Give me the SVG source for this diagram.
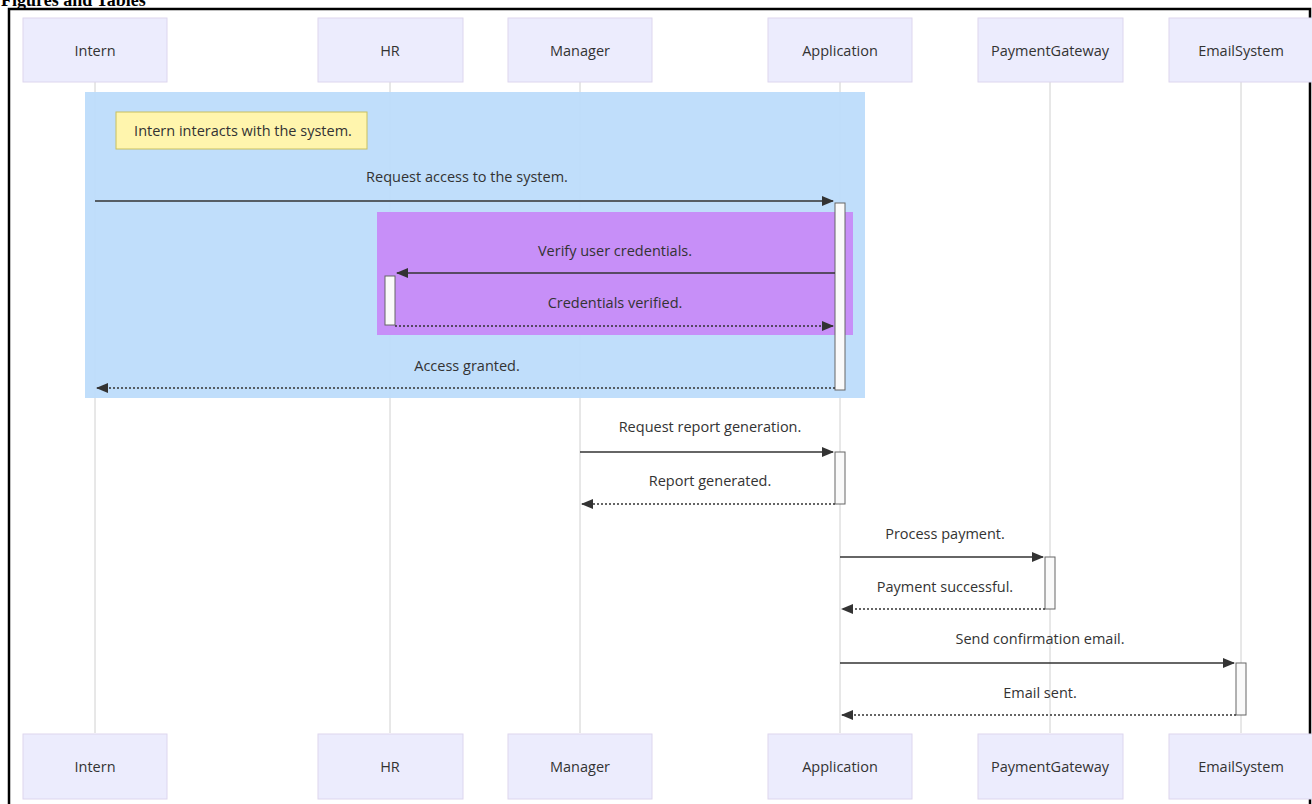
<svg xmlns="http://www.w3.org/2000/svg" width="1312" height="804" viewBox="0 0 1312 804">
<style>
.actor rect{fill:#ececfd;stroke:#ddd6ee;stroke-width:1}
.actor text,.msg{font-family:"Open Sans","DejaVu Sans",sans-serif;font-size:14.5px;fill:#333;text-anchor:middle}
.life{stroke:#d0d0d0;stroke-width:1}
.solid{stroke:#333;stroke-width:1.5;fill:none}
.dot{stroke:#333;stroke-width:1.5;fill:none;stroke-dasharray:2 2}
.act{fill:#fafafa;stroke:#666;stroke-width:1}
</style>
<defs>
<marker id="ah" viewBox="0 0 12 10" refX="11" refY="5" markerWidth="12" markerHeight="10" markerUnits="userSpaceOnUse" orient="auto">
<path d="M0,0 L12,5 L0,10 z" fill="#333"/>
</marker>
</defs>
<rect width="1312" height="804" fill="#fff"/>
<text x="1" y="6" font-family="Liberation Serif,serif" font-weight="bold" font-size="18" fill="#000">Figures and Tables</text>
<path d="M9,804 V9 H1310 V804" fill="none" stroke="#000" stroke-width="2.5"/>

<g id="lifelines">
<line class="life" x1="95" y1="82" x2="95" y2="733"/>
<line class="life" x1="390" y1="82" x2="390" y2="733"/>
<line class="life" x1="580" y1="82" x2="580" y2="733"/>
<line class="life" x1="840" y1="82" x2="840" y2="733"/>
<line class="life" x1="1050" y1="82" x2="1050" y2="733"/>
<line class="life" x1="1241" y1="82" x2="1241" y2="733"/>
</g>

<g id="box-intern-block">
<rect x="85" y="92" width="780" height="306" fill="#bddcfb" fill-opacity="0.95"/>
</g>
<g id="box-verify-block">
<rect x="377" y="212" width="476" height="123" fill="#c78ff8"/>
</g>

<g id="note">
<rect x="116" y="112" width="251" height="37" fill="#fff5ad" stroke="#c8c060" stroke-width="1"/>
<text class="msg" x="243" y="136" style="font-size:14.5px">Intern interacts with the system.</text>
</g>

<g id="activations">
<rect class="act" x="835" y="203" width="10" height="187"/>
<rect class="act" x="385" y="276" width="10" height="49"/>
<rect class="act" x="835" y="452" width="10" height="52"/>
<rect class="act" x="1045" y="557" width="10" height="52"/>
<rect class="act" x="1236" y="663" width="10" height="52"/>
</g>

<g id="connectors">
<text class="msg" x="467" y="182">Request access to the system.</text>
<line class="solid" x1="95" y1="201" x2="833" y2="201" marker-end="url(#ah)"/>
<text class="msg" x="615" y="256">Verify user credentials.</text>
<line class="solid" x1="835" y1="273" x2="397" y2="273" marker-end="url(#ah)"/>
<text class="msg" x="615" y="308">Credentials verified.</text>
<line class="dot" x1="395" y1="326" x2="833" y2="326" marker-end="url(#ah)"/>
<text class="msg" x="467" y="371">Access granted.</text>
<line class="dot" x1="835" y1="388" x2="97" y2="388" marker-end="url(#ah)"/>
<text class="msg" x="710" y="432">Request report generation.</text>
<line class="solid" x1="580" y1="452" x2="833" y2="452" marker-end="url(#ah)"/>
<text class="msg" x="710" y="486">Report generated.</text>
<line class="dot" x1="835" y1="504" x2="582" y2="504" marker-end="url(#ah)"/>
<text class="msg" x="945" y="539">Process payment.</text>
<line class="solid" x1="840" y1="557" x2="1043" y2="557" marker-end="url(#ah)"/>
<text class="msg" x="945" y="592">Payment successful.</text>
<line class="dot" x1="1045" y1="609" x2="842" y2="609" marker-end="url(#ah)"/>
<text class="msg" x="1040" y="644">Send confirmation email.</text>
<line class="solid" x1="840" y1="663" x2="1234" y2="663" marker-end="url(#ah)"/>
<text class="msg" x="1040" y="698">Email sent.</text>
<line class="dot" x1="1236" y1="715" x2="842" y2="715" marker-end="url(#ah)"/>
</g>

<g id="actor-intern" class="actor">
<rect x="23" y="18" width="144" height="64"/><text x="95" y="56">Intern</text>
<rect x="23" y="734" width="144" height="65"/><text x="95" y="772">Intern</text>
</g>
<g id="actor-hr" class="actor">
<rect x="318" y="18" width="145" height="64"/><text x="390" y="56">HR</text>
<rect x="318" y="734" width="145" height="65"/><text x="390" y="772">HR</text>
</g>
<g id="actor-manager" class="actor">
<rect x="508" y="18" width="144" height="64"/><text x="580" y="56">Manager</text>
<rect x="508" y="734" width="144" height="65"/><text x="580" y="772">Manager</text>
</g>
<g id="actor-application" class="actor">
<rect x="768" y="18" width="144" height="64"/><text x="840" y="56">Application</text>
<rect x="768" y="734" width="144" height="65"/><text x="840" y="772">Application</text>
</g>
<g id="actor-paymentgateway" class="actor">
<rect x="978" y="18" width="145" height="64"/><text x="1050" y="56">PaymentGateway</text>
<rect x="978" y="734" width="145" height="65"/><text x="1050" y="772">PaymentGateway</text>
</g>
<g id="actor-emailsystem" class="actor">
<rect x="1169" y="18" width="144" height="64"/><text x="1241" y="56">EmailSystem</text>
<rect x="1169" y="734" width="144" height="65"/><text x="1241" y="772">EmailSystem</text>
</g>
</svg>
